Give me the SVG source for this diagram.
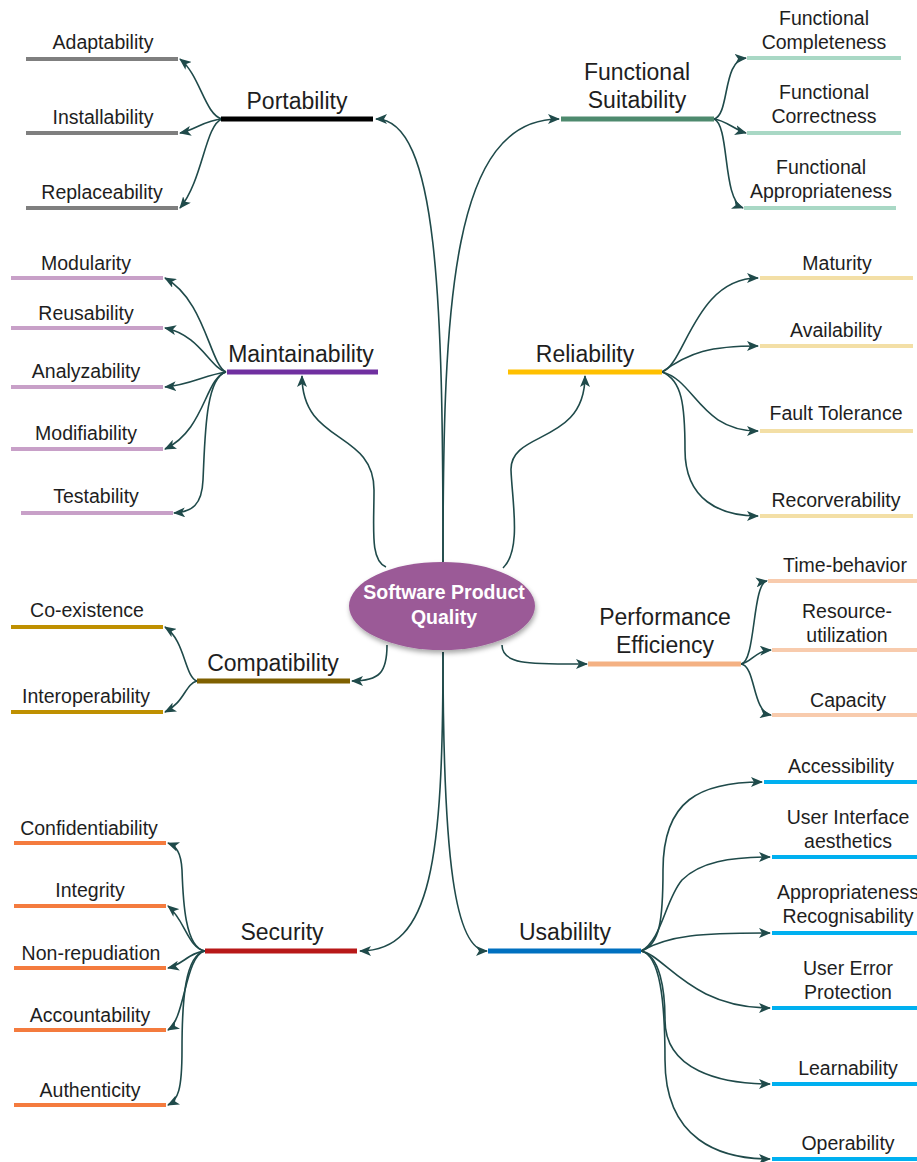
<svg xmlns="http://www.w3.org/2000/svg" width="917" height="1162" viewBox="0 0 917 1162">
<style>
text{font-family:"Liberation Sans",Arial,sans-serif;fill:#1e1e1e;text-anchor:middle}
.p{font-size:23px}
.c{font-size:19.5px}
.bar{stroke-width:5;fill:none}
.sub{stroke-width:4;fill:none}
.con path{fill:none;stroke:#1f4a4a;stroke-width:1.6;marker-end:url(#ah)}
</style>
<defs>
<marker id="ah" markerUnits="userSpaceOnUse" markerWidth="12" markerHeight="10" refX="11" refY="5" orient="auto" viewBox="0 0 12 10">
<path d="M0,0 L12,5 L0,10 L3,5 z" fill="#1f4a4a"/>
</marker>
<filter id="sh" x="-20%" y="-20%" width="140%" height="150%">
<feDropShadow dx="1" dy="3" stdDeviation="2.5" flood-color="#000" flood-opacity="0.35"/>
</filter>
</defs>
<rect width="917" height="1162" fill="#ffffff"/>

<g id="connectors" class="con">
<path d="M443,562 C443,300 438,119 376,119"/>
<path d="M443,562 C443,300 452,119 559,119"/>
<path d="M386,567 C370,560 374,530 374,490 C374,430 302,445 302,376"/>
<path d="M503,568 C522,550 512,500 511,470 C510,430 585,445 585,376"/>
<path d="M387,645 C387,672 380,681 352,681"/>
<path d="M502,645 C502,665 530,664 587,664"/>
<path d="M443,652 C443,860 432,951 360,951"/>
<path d="M443,652 C443,860 455,951 487,951"/>
<path d="M222,119 C205,115 200,75 180,59"/>
<path d="M222,119 C205,120 195,130 180,133"/>
<path d="M222,119 C205,125 203,180 180,208"/>
<path d="M714,119 C730,115 722,60 746,58"/>
<path d="M714,119 C725,120 735,130 746,133"/>
<path d="M714,119 C730,125 722,200 743,208"/>
<path d="M226,372 C210,365 205,300 165,278"/>
<path d="M226,372 C210,368 200,335 165,328"/>
<path d="M226,372 C205,375 190,385 165,387"/>
<path d="M226,372 C205,378 205,430 165,449"/>
<path d="M226,372 C205,378 205,440 203,480 C202,505 192,512 174,513"/>
<path d="M662,372 C685,365 695,278 758,278"/>
<path d="M662,372 C690,352 710,346 758,346"/>
<path d="M662,372 C695,380 700,431 758,431"/>
<path d="M662,372 C682,380 685,405 685,450 C685,500 720,516 758,516"/>
<path d="M197,681 C185,678 185,640 165,627"/>
<path d="M197,681 C185,684 185,702 165,712"/>
<path d="M741,664 C756,662 752,583 767,581"/>
<path d="M741,664 C752,662 755,651 771,650"/>
<path d="M741,664 C756,666 752,712 771,715"/>
<path d="M205,951 C185,948 183,900 182,870 C181,852 176,846 168,843"/>
<path d="M205,951 C188,948 185,920 168,906"/>
<path d="M205,951 C190,952 182,965 168,968"/>
<path d="M205,951 C185,955 185,1020 168,1030"/>
<path d="M205,951 C185,955 182,1000 182,1050 C182,1090 178,1100 168,1105"/>
<path d="M641,951 C660,945 663,920 663,870 C663,800 700,782 762,782"/>
<path d="M641,951 C662,940 665,900 682,880 C700,862 730,857 770,857"/>
<path d="M641,951 C670,935 700,933 770,933"/>
<path d="M641,951 C665,955 690,1008 770,1008"/>
<path d="M641,951 C660,955 665,990 665,1020 C665,1070 720,1084 770,1084"/>
<path d="M641,951 C660,955 665,1000 665,1060 C665,1140 720,1159 770,1159"/>
</g>

<g id="center">
<ellipse cx="442" cy="606" rx="93" ry="44" fill="#9b5a97" filter="url(#sh)"/>
<text x="444" y="599" style="font-size:19.5px;font-weight:bold;fill:#ffffff">Software Product</text>
<text x="444" y="624" style="font-size:19.5px;font-weight:bold;fill:#ffffff">Quality</text>
</g>

<g id="portability">
<line class="bar" x1="221" y1="119" x2="373" y2="119" stroke="#000000"/>
<text class="p" x="297" y="109">Portability</text>
</g>
<g id="adaptability"><line class="sub" x1="26" y1="59" x2="178" y2="59" stroke="#7f7f7f"/><text class="c" x="103" y="49">Adaptability</text></g>
<g id="installability"><line class="sub" x1="26" y1="133" x2="178" y2="133" stroke="#7f7f7f"/><text class="c" x="103" y="124">Installability</text></g>
<g id="replaceability"><line class="sub" x1="26" y1="208" x2="178" y2="208" stroke="#7f7f7f"/><text class="c" x="102" y="199">Replaceability</text></g>

<g id="functional-suitability">
<line class="bar" x1="561" y1="119" x2="714" y2="119" stroke="#4e8a6e"/>
<text class="p" x="637" y="80">Functional</text>
<text class="p" x="637" y="108">Suitability</text>
</g>
<g id="functional-completeness"><line class="sub" x1="747" y1="58" x2="901" y2="58" stroke="#a9d8c5"/><text class="c" x="824" y="25">Functional</text><text class="c" x="824" y="49">Completeness</text></g>
<g id="functional-correctness"><line class="sub" x1="747" y1="133" x2="901" y2="133" stroke="#a9d8c5"/><text class="c" x="824" y="99">Functional</text><text class="c" x="824" y="123">Correctness</text></g>
<g id="functional-appropriateness"><line class="sub" x1="744" y1="208" x2="896" y2="208" stroke="#a9d8c5"/><text class="c" x="821" y="174">Functional</text><text class="c" x="821" y="198">Appropriateness</text></g>

<g id="maintainability">
<line class="bar" x1="227" y1="372" x2="378" y2="372" stroke="#7030a0"/>
<text class="p" x="301" y="362">Maintainability</text>
</g>
<g id="modularity"><line class="sub" x1="11" y1="278" x2="163" y2="278" stroke="#c8a0c8"/><text class="c" x="86" y="270">Modularity</text></g>
<g id="reusability"><line class="sub" x1="11" y1="328" x2="163" y2="328" stroke="#c8a0c8"/><text class="c" x="86" y="320">Reusability</text></g>
<g id="analyzability"><line class="sub" x1="11" y1="387" x2="163" y2="387" stroke="#c8a0c8"/><text class="c" x="86" y="378">Analyzability</text></g>
<g id="modifiability"><line class="sub" x1="11" y1="449" x2="163" y2="449" stroke="#c8a0c8"/><text class="c" x="86" y="440">Modifiability</text></g>
<g id="testability"><line class="sub" x1="21" y1="513" x2="173" y2="513" stroke="#c8a0c8"/><text class="c" x="96" y="503">Testability</text></g>

<g id="reliability">
<line class="bar" x1="508" y1="372" x2="662" y2="372" stroke="#ffc000"/>
<text class="p" x="585" y="362">Reliability</text>
</g>
<g id="maturity"><line class="sub" x1="760" y1="278" x2="913" y2="278" stroke="#f3dfa6"/><text class="c" x="837" y="270">Maturity</text></g>
<g id="availability"><line class="sub" x1="760" y1="346" x2="913" y2="346" stroke="#f3dfa6"/><text class="c" x="836" y="337">Availability</text></g>
<g id="fault-tolerance"><line class="sub" x1="760" y1="431" x2="913" y2="431" stroke="#f3dfa6"/><text class="c" x="836" y="420">Fault Tolerance</text></g>
<g id="recorverability"><line class="sub" x1="760" y1="516" x2="913" y2="516" stroke="#f3dfa6"/><text class="c" x="836" y="507">Recorverability</text></g>

<g id="compatibility">
<line class="bar" x1="197" y1="681" x2="350" y2="681" stroke="#7f6000"/>
<text class="p" x="273" y="671">Compatibility</text>
</g>
<g id="co-existence"><line class="sub" x1="11" y1="627" x2="163" y2="627" stroke="#bf9000"/><text class="c" x="87" y="617">Co-existence</text></g>
<g id="interoperability"><line class="sub" x1="11" y1="712" x2="163" y2="712" stroke="#bf9000"/><text class="c" x="86" y="703">Interoperability</text></g>

<g id="performance-efficiency">
<line class="bar" x1="588" y1="664" x2="741" y2="664" stroke="#f4b183"/>
<text class="p" x="665" y="625">Performance</text>
<text class="p" x="665" y="653">Efficiency</text>
</g>
<g id="time-behavior"><line class="sub" x1="768" y1="581" x2="917" y2="581" stroke="#f8cbad"/><text class="c" x="845" y="572">Time-behavior</text></g>
<g id="resource-utilization"><line class="sub" x1="772" y1="650" x2="917" y2="650" stroke="#f8cbad"/><text class="c" x="847" y="618">Resource-</text><text class="c" x="847" y="642">utilization</text></g>
<g id="capacity"><line class="sub" x1="772" y1="715" x2="917" y2="715" stroke="#f8cbad"/><text class="c" x="848" y="707">Capacity</text></g>

<g id="security">
<line class="bar" x1="205" y1="951" x2="357" y2="951" stroke="#b81818"/>
<text class="p" x="282" y="940">Security</text>
</g>
<g id="confidentiability"><line class="sub" x1="14" y1="843" x2="166" y2="843" stroke="#f47b3e"/><text class="c" x="89" y="835">Confidentiability</text></g>
<g id="integrity"><line class="sub" x1="14" y1="906" x2="166" y2="906" stroke="#f47b3e"/><text class="c" x="90" y="897">Integrity</text></g>
<g id="non-repudiation"><line class="sub" x1="14" y1="968" x2="166" y2="968" stroke="#f47b3e"/><text class="c" x="91" y="960">Non-repudiation</text></g>
<g id="accountability"><line class="sub" x1="14" y1="1030" x2="166" y2="1030" stroke="#f47b3e"/><text class="c" x="90" y="1022">Accountability</text></g>
<g id="authenticity"><line class="sub" x1="14" y1="1105" x2="166" y2="1105" stroke="#f47b3e"/><text class="c" x="90" y="1097">Authenticity</text></g>

<g id="usability">
<line class="bar" x1="488" y1="951" x2="641" y2="951" stroke="#0070c0"/>
<text class="p" x="565" y="940">Usabililty</text>
</g>
<g id="accessibility"><line class="sub" x1="764" y1="782" x2="917" y2="782" stroke="#00b0f0"/><text class="c" x="841" y="773">Accessibility</text></g>
<g id="ui-aesthetics"><line class="sub" x1="772" y1="857" x2="917" y2="857" stroke="#00b0f0"/><text class="c" x="848" y="824">User Interface</text><text class="c" x="848" y="848">aesthetics</text></g>
<g id="appropriateness-recognisability"><line class="sub" x1="772" y1="933" x2="917" y2="933" stroke="#00b0f0"/><text class="c" x="848" y="899">Appropriateness</text><text class="c" x="848" y="923">Recognisability</text></g>
<g id="user-error-protection"><line class="sub" x1="772" y1="1008" x2="917" y2="1008" stroke="#00b0f0"/><text class="c" x="848" y="975">User Error</text><text class="c" x="848" y="999">Protection</text></g>
<g id="learnability"><line class="sub" x1="772" y1="1084" x2="917" y2="1084" stroke="#00b0f0"/><text class="c" x="848" y="1075">Learnability</text></g>
<g id="operability"><line class="sub" x1="772" y1="1159" x2="917" y2="1159" stroke="#00b0f0"/><text class="c" x="848" y="1150">Operability</text></g>
</svg>
